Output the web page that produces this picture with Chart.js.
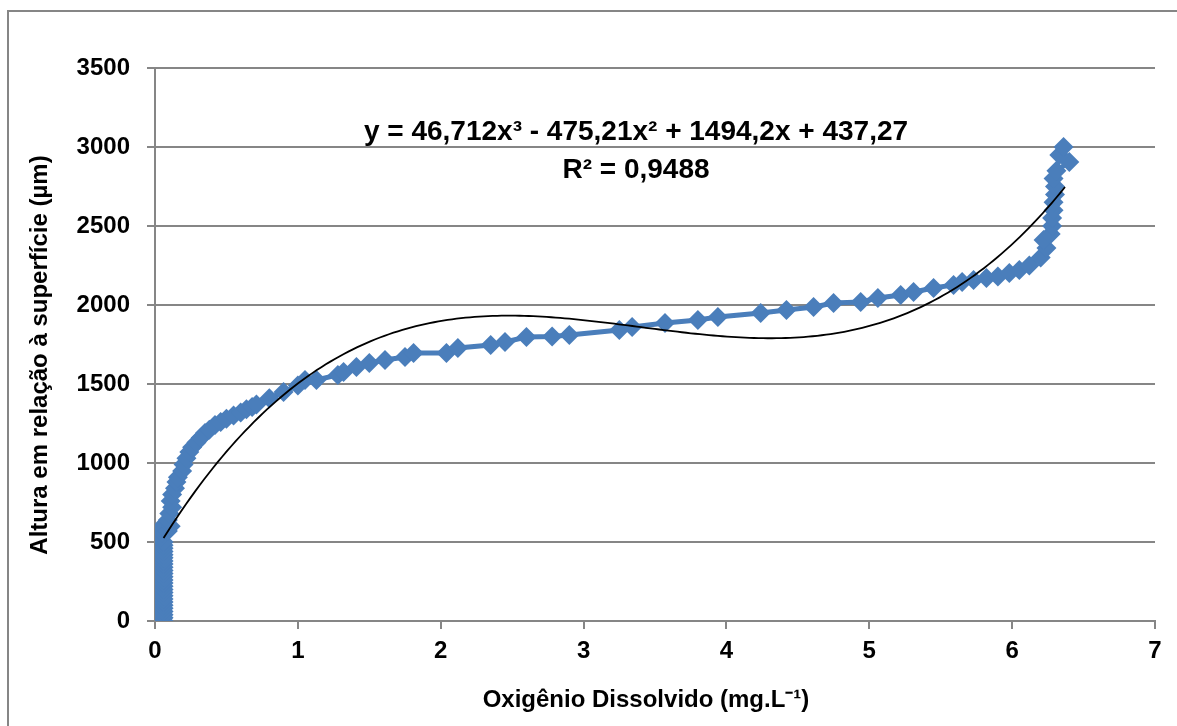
<!DOCTYPE html>
<html lang="pt-BR">
<head>
    <meta charset="UTF-8">
    <title>Oxigênio Dissolvido x Altura</title>
    <script src="https://cdn.jsdelivr.net/npm/chart.js"></script>
    <style>
        body { margin: 0; background: #fff; }
        #wrap { width: 1177px; height: 726px; }
    </style>
</head>
<body>
    <div id="wrap"><canvas id="grafico" width="1177" height="726"></canvas></div>

    <script>
        // Dados
        const oxigenio = [
            0.06, 0.06, 0.06, 0.06, 0.06, 0.06, 0.06, 0.06, 0.06, 0.06,
            0.06, 0.06, 0.06, 0.06, 0.06, 0.06, 0.06, 0.06, 0.06, 0.06,
            0.06, 0.06, 0.06, 0.06, 0.06, 0.06, 0.04, 0.05, 0.04, 0.09,
            0.11, 0.09, 0.10, 0.12, 0.11, 0.12, 0.14, 0.15, 0.16, 0.19,
            0.20, 0.22, 0.24, 0.26, 0.29, 0.32, 0.35, 0.38, 0.42, 0.46,
            0.50, 0.55, 0.60, 0.64, 0.68, 0.71, 0.80, 0.90, 1.00, 1.05,
            1.13, 1.28, 1.32, 1.41, 1.50, 1.61, 1.75, 1.81, 2.04, 2.12,
            2.35, 2.45, 2.60, 2.78, 2.90, 3.25, 3.34, 3.57, 3.80, 3.94,
            4.24, 4.42, 4.61, 4.75, 4.94, 5.06, 5.22, 5.31, 5.45, 5.59,
            5.65, 5.73, 5.82, 5.90, 5.98, 6.05, 6.12, 6.20, 6.24, 6.22,
            6.27, 6.28, 6.28, 6.29, 6.29, 6.30, 6.30, 6.29, 6.31, 6.40,
            6.33, 6.36
        ];
        const altura = [
            0, 20, 40, 60, 80, 100, 120, 140, 160, 180,
            200, 220, 240, 260, 280, 300, 320, 340, 360, 380,
            400, 420, 440, 460, 480, 500, 530, 560, 590, 570,
            600, 640, 680, 720, 760, 800, 840, 880, 910, 950,
            990, 1030, 1070, 1100, 1130, 1160, 1190, 1210, 1240, 1260,
            1280, 1300, 1320, 1340, 1355, 1370, 1410, 1450, 1490, 1525,
            1525, 1557, 1576, 1608, 1633, 1652, 1671, 1696, 1696, 1728,
            1747, 1766, 1797, 1800, 1810, 1842, 1861, 1886, 1905, 1924,
            1949, 1968, 1987, 2013, 2019, 2044, 2063, 2082, 2108, 2127,
            2146, 2158, 2171, 2180, 2203, 2222, 2250, 2300, 2360, 2411,
            2450, 2500, 2550, 2600, 2650, 2700, 2750, 2800, 2850, 2905,
            2950, 3000
        ];

        // Linha de tendência polinomial (coeficientes da equação exibida: a3, a2, a1, a0)
        const coefTendencia = [46.712, -475.21, 1494.2, 437.27];
        const faixaTendencia = [0.06, 6.37];

        const eixoX = { min: 0, max: 7, passo: 1 };
        const eixoY = { min: 0, max: 3500, passo: 500 };

        const tituloX = 'Oxigênio Dissolvido (mg.L⁻¹)';
        const tituloY = 'Altura em relação à superfície (µm)';
        const equacao = 'y = 46,712x³ - 475,21x² + 1494,2x + 437,27';
        const r2 = 'R² = 0,9488';

        const fonte = "'Liberation Sans Narrow', 'Arial Narrow', 'Liberation Sans', Arial, sans-serif";
        const cinza = '#868686';
        const azul = '#4A7EBB';

        const pontos = oxigenio.map((x, i) => ({ x: x, y: altura[i] }));

        const tendencia = [];
        for (let i = 0; i <= 200; i++) {
            const x = faixaTendencia[0] + (faixaTendencia[1] - faixaTendencia[0]) * i / 200;
            const y = ((coefTendencia[0] * x + coefTendencia[1]) * x + coefTendencia[2]) * x + coefTendencia[3];
            tendencia.push({ x: x, y: y });
        }

        // Moldura, títulos dos eixos e equação
        const extras = {
            id: 'extras',
            beforeDraw(chart) {
                const c = chart.ctx;
                c.save();
                c.fillStyle = '#fff';
                c.fillRect(0, 0, chart.width, chart.height);
                c.strokeStyle = cinza;
                c.lineWidth = 2;
                c.strokeRect(8, 11, 1250, 800);
                c.restore();
            },
            afterDraw(chart) {
                const c = chart.ctx;
                c.save();
                c.fillStyle = '#000';
                c.textAlign = 'center';
                c.textBaseline = 'middle';
                c.font = 'bold 24px ' + fonte;
                c.fillText(tituloX, 646, 700);
                c.translate(40, 355);
                c.rotate(-Math.PI / 2);
                c.fillText(tituloY, 0, 0);
                c.restore();

                c.save();
                c.fillStyle = '#000';
                c.textAlign = 'center';
                c.textBaseline = 'middle';
                c.font = 'bold 28px ' + fonte;
                c.fillText(equacao, 636, 132);
                c.fillText(r2, 636, 170);
                c.restore();
            }
        };

        const ctx = document.getElementById('grafico').getContext('2d');
        const grafico = new Chart(ctx, {
            type: 'scatter',
            data: {
                datasets: [
                    {
                        label: 'Tendência',
                        data: tendencia,
                        showLine: true,
                        borderColor: '#000',
                        borderWidth: 1.8,
                        pointRadius: 0,
                        tension: 0,
                        order: 0
                    },
                    {
                        label: 'Dados',
                        data: pontos,
                        showLine: true,
                        borderColor: azul,
                        borderWidth: 5,
                        backgroundColor: azul,
                        pointStyle: 'rectRot',
                        pointRadius: 10,
                        pointBorderWidth: 0,
                        tension: 0,
                        order: 1
                    }
                ]
            },
            options: {
                responsive: false,
                animation: false,
                layout: { padding: { top: 68, right: 22, left: 0, bottom: 0 } },
                plugins: {
                    legend: { display: false },
                    tooltip: { enabled: false }
                },
                scales: {
                    x: {
                        type: 'linear',
                        min: eixoX.min,
                        max: eixoX.max,
                        afterFit: (s) => { s.height = 105; },
                        ticks: {
                            stepSize: eixoX.passo,
                            color: '#000',
                            padding: 8,
                            font: { family: fonte, size: 24, weight: 'bold' },
                            callback: (v) => String(v)
                        },
                        grid: {
                            drawOnChartArea: false,
                            drawTicks: true,
                            tickLength: 8,
                            color: cinza,
                            lineWidth: 2
                        },
                        border: { display: true, color: cinza, width: 2 }
                    },
                    y: {
                        min: eixoY.min,
                        max: eixoY.max,
                        afterFit: (s) => { s.width = 155; },
                        ticks: {
                            stepSize: eixoY.passo,
                            color: '#000',
                            padding: 17,
                            font: { family: fonte, size: 24, weight: 'bold' },
                            callback: (v) => String(v)
                        },
                        grid: {
                            color: cinza,
                            lineWidth: 2,
                            tickLength: 8
                        },
                        border: { display: true, color: cinza, width: 2 }
                    }
                }
            },
            plugins: [extras]
        });
    </script>
</body>
</html>
